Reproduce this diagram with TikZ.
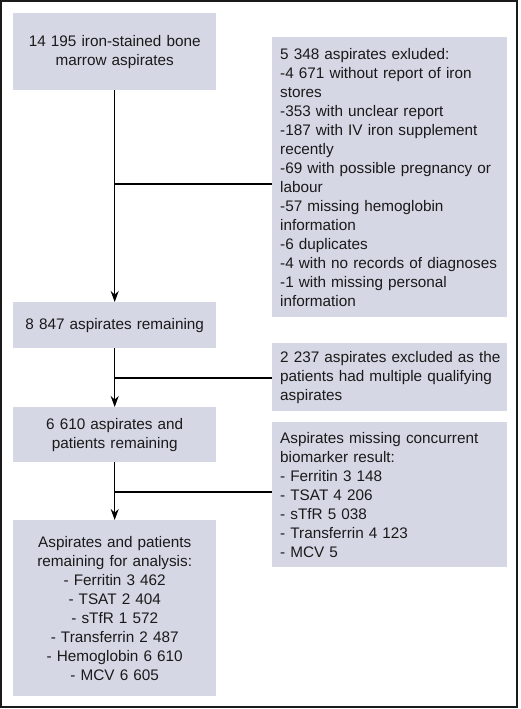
\documentclass[tikz,border=0pt]{standalone}
\usepackage{fontspec}
\setmainfont{Liberation Sans}
\usetikzlibrary{arrows.meta}
\definecolor{boxfill}{HTML}{D5D7E4}
\definecolor{inkgrey}{HTML}{1A1A1A}

\tikzset{
flowbox/.style={fill=boxfill, inner ysep=0pt, text=inkgrey,
  font=\fontsize{15.3}{19}\selectfont, anchor=north west},
leftbox/.style={flowbox, inner xsep=10pt, text width=183pt, align=center},
rightbox/.style={flowbox, inner xsep=8pt, text width=219pt, align=left},
flowline/.style={line width=1.4pt, draw=black},
flowarrow/.style={flowline, -{Stealth[length=11pt,width=8pt]}}
}

\begin{document}
\begin{tikzpicture}[x=1pt,y=-1pt]
\useasboundingbox (0,0) rectangle (520,709);
\draw[line width=1.5pt, inkgrey] (1,1) rectangle (517,707);

% left column
\node[leftbox, minimum height=77pt] (total) at (13,13)
  {14 195 iron-stained bone\\marrow aspirates};
\node[leftbox, minimum height=46pt] (remain) at (13,302)
  {8 847 aspirates remaining};
\node[leftbox, minimum height=55pt] (patients) at (13,407)
  {6 610 aspirates and\\patients remaining};
\node[leftbox, minimum height=176pt] (analysis) at (13,520)
  {Aspirates and patients\\remaining for analysis:\\- Ferritin 3 462\\- TSAT 2 404\\- sTfR 1 572\\- Transferrin 2 487\\- Hemoglobin 6 610\\- MCV 6 605};

% right column
\node[rightbox, minimum height=280pt] (excluded) at (272,37)
  {5 348 aspirates exluded:\\-4 671 without report of iron\\stores\\-353 with unclear report\\-187 with IV iron supplement\\recently\\-69 with possible pregnancy or\\labour\\-57 missing hemoglobin\\information\\-6 duplicates\\-4 with no records of diagnoses\\-1 with missing personal\\information};
\node[rightbox, minimum height=68pt] (multiple) at (272,343)
  {\mbox{2 237 aspirates excluded as the}\\patients had multiple qualifying\\aspirates};
\node[rightbox, minimum height=145pt] (missing) at (272,422)
  {Aspirates missing concurrent\\biomarker result:\\- Ferritin 3 148\\- TSAT 4 206\\- sTfR 5 038\\- Transferrin 4 123\\- MCV 5};

% connectors
\coordinate (fork1) at (total.south |- 0,184);
\coordinate (fork2) at (remain.south |- 0,378);
\coordinate (fork3) at (patients.south |- 0,492);
\draw[flowarrow] (total) -- (remain);
\draw[flowarrow] (remain) -- (patients);
\draw[flowarrow] (patients) -- (analysis);
\draw[flowline] (fork1) -- (fork1 -| excluded.west);
\draw[flowline] (fork2) -- (fork2 -| multiple.west);
\draw[flowline] (fork3) -- (fork3 -| missing.west);
\end{tikzpicture}
\end{document}
